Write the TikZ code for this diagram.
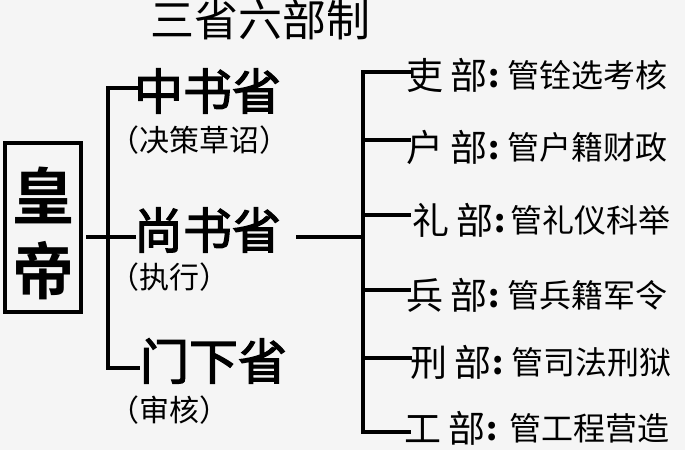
\documentclass[tikz,border=0pt]{standalone}
\usepackage{fontspec}
\setmainfont{Noto Sans CJK SC}
\newfontfamily\cjk{Noto Sans CJK SC}
\newfontfamily\cjkm[FakeBold=2.5]{Noto Sans CJK SC}
\newfontfamily\cjkb{Noto Sans CJK SC Bold}
\begin{document}
\begin{tikzpicture}[x=1pt,y=-1pt,
  conn/.style={line width=4.5pt,line join=miter,line cap=rect,black},
  sz/.style={inner sep=0pt,outer sep=0pt,anchor=west,text height=0.88*#1 pt,text depth=0.12*#1 pt},
  title/.style={sz=44,anchor=center,font=\cjk\fontsize{44}{44}\selectfont},
  sheng/.style={sz=49,font=\cjkm\fontsize{49}{49}\selectfont},
  note/.style={sz=30,font=\cjk\fontsize{30}{30}\selectfont},
  dept/.style={sz=37,font=\cjk\fontsize{37}{37}\selectfont},
  empbox/.style={draw,line width=3.5pt,minimum width=76pt,minimum height=169pt,inner sep=0pt},
  emptxt/.style={inner sep=0pt,align=center,font=\cjkb\fontsize{62}{75}\selectfont}
]
\newcommand\dsp{\hspace{8pt}}
\newcommand\dsm[1]{{\fontsize{32}{32}\selectfont\raisebox{1.5pt}{#1}}}
\useasboundingbox (0,0) rectangle (685,450);
\fill[white!96!black] (0,0) rectangle (685,450);

\node[title] (t) at (260,20) {三省六部制};

\node[empbox] (hd) at (43,227.5) {};
\node[emptxt] (hdt) at (43.5,233) {皇\\帝};

\node[sheng] (zs) at (134,91) {中书省};
\node[note]  (zsn) at (109,140) {（决策草诏）};
\node[sheng] (ss) at (134,230) {尚书省};
\node[note]  (ssn) at (109,277) {（执行）};
\node[sheng] (mx) at (140,361) {门下省};
\node[note]  (mxn) at (109,410) {（审核）};

\coordinate (jl) at (108,237);
\coordinate (jr) at (363,237);

\draw[conn] ([xshift=5pt]hd.east |- jl) -- ([yshift=-7pt]ss.west);
\draw[conn] ([xshift=2pt,yshift=3pt]zs.west) -| (jl) |- ([xshift=-2pt,yshift=-7pt]mx.west);

\node[dept] (li)  at (406,75)  {吏\dsp 部\dsm{\textbf{:}\hspace{8pt}管铨选考核}};
\node[dept] (hu)  at (406,147) {户\dsp 部\dsm{\textbf{:}\hspace{8pt}管户籍财政}};
\node[dept] (lb)  at (412,220) {礼\dsp 部\dsm{\textbf{:}\hspace{5pt}管礼仪科举}};
\node[dept] (bb)  at (406,295) {兵\dsp 部\dsm{\textbf{:}\hspace{8pt}管兵籍军令}};
\node[dept] (xb)  at (410,362) {刑\dsp 部\dsm{\textbf{:}\hspace{8pt}管司法刑狱}};
\node[dept] (gb)  at (404,428) {工\dsp 部\dsm{\textbf{:}\hspace{12pt}管工程营造}};

\draw[conn] ([xshift=17pt,yshift=-7pt]ss.east) -- (jr);
\draw[conn] ([xshift=3pt,yshift=3pt]li.west) -| (jr) |- ([xshift=5pt,yshift=-4pt]gb.west);
\draw[conn] ([xshift=3pt,yshift=7pt]hu.west) -- ([yshift=7pt]hu.west -| jr);
\draw[conn] ([xshift=-3pt,yshift=5pt]lb.west) -- ([yshift=5pt]lb.west -| jr);
\draw[conn] ([xshift=3pt,yshift=5pt]bb.west) -- ([yshift=5pt]bb.west -| jr);
\draw[conn] ([yshift=4pt]xb.west) -- ([yshift=4pt]xb.west -| jr);
\end{tikzpicture}
\end{document}
